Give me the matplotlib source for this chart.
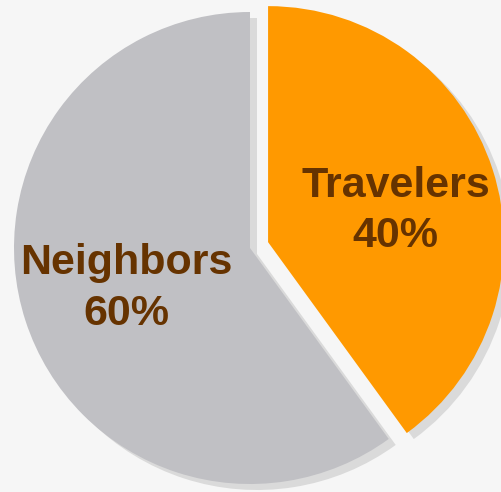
import matplotlib
matplotlib.use("Agg")
import matplotlib.pyplot as plt

# Who stays here: share of guests by origin
names = ["Travelers", "Neighbors"]
shares = [40, 60]

COLORS = ["#ff9900", "#c0c0c4"]
SHADOW = "#dadada"
TEXT = "#663300"
BG = "#f6f6f6"

W, H = 501, 492
fig = plt.figure(figsize=(W / 100, H / 100), dpi=100, facecolor=BG)
ax = fig.add_axes([0, 0, 1, 1])

center = (250, 244)
radius = 236
explode = [19, 0]   # pie explode offsets are in data units

# drop shadow: same pie shifted right/down
ax.pie(shares, startangle=90, counterclock=False, radius=radius,
       center=(center[0] + 7, center[1] - 6), explode=explode,
       colors=[SHADOW, SHADOW], frame=True,
       wedgeprops=dict(linewidth=0))

labels = [f"{n}\n{v}%" for n, v in zip(names, shares)]
wedges, texts = ax.pie(shares, labels=labels, startangle=90, counterclock=False,
                       radius=radius, center=center, explode=explode,
                       colors=COLORS, labeldistance=0.55, frame=True,
                       wedgeprops=dict(linewidth=0),
                       textprops=dict(fontsize=31, fontweight="bold", color=TEXT,
                                      family="Liberation Sans", linespacing=1.35))
for t in texts:
    t.set_horizontalalignment("center")
    t.set_verticalalignment("center")
    t.set_multialignment("center")

# nudge the Travelers label a little lower and right inside its wedge
x, y = texts[0].get_position()
texts[0].set_position((x + 4, y - 9))

ax.set_xlim(0, W)
ax.set_ylim(0, H)
ax.set_aspect("equal")
ax.axis("off")

fig.savefig("out.png", dpi=100, facecolor=BG)
